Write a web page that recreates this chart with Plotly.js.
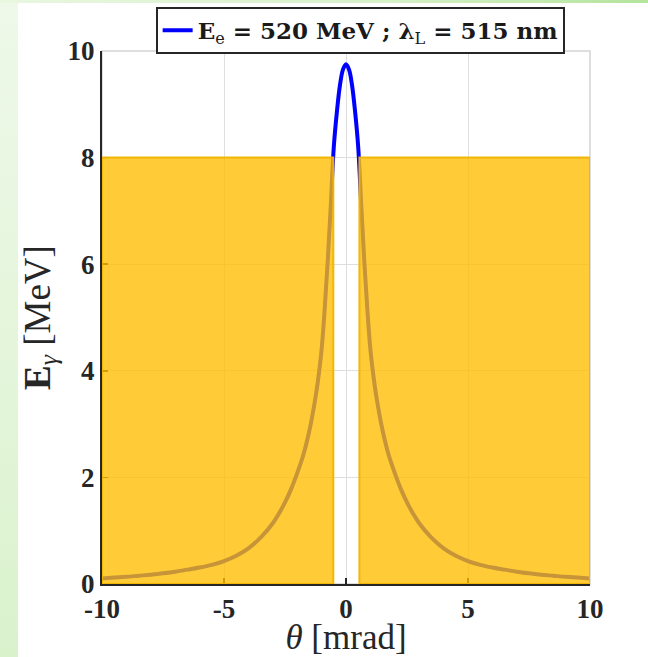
<!DOCTYPE html>
<html>
<head>
<meta charset="utf-8">
<script src="https://cdn.plot.ly/plotly-3.0.1.min.js"></script>
<style>
  html, body { margin: 0; padding: 0; width: 648px; height: 657px; overflow: hidden; background: #ffffff; }
  #leftStrip { position: absolute; left: 0; top: 0; width: 18px; height: 657px;
    background: linear-gradient(180deg, #eef9e9 0%, #e3f5d9 60%, #d9f2cc 100%); }
  #topStrip { position: absolute; left: 0; top: 0; width: 648px; height: 3px;
    background: linear-gradient(90deg, #e9f7e1 0%, #d6f0c8 60%, #b4e49c 100%); }
  #chart { position: absolute; left: 0; top: 0; width: 648px; height: 657px; }
</style>
</head>
<body>
<div id="leftStrip"></div>
<div id="topStrip"></div>
<div id="chart"></div>
<script>
// Emission angle (mrad) and scattered photon energy (MeV)
const thetaMrad = [-10, -9.5, -9, -8.5, -8, -7.5, -7, -6.5, -6, -5.5, -5, -4.5, -4, -3.5, -3,
                   -2.75, -2.5, -2.25, -2, -1.75, -1.5, -1.25, -1.125, -1, -0.875, -0.75, -0.625, -0.5, -0.375, -0.25, -0.125,
                   0,
                   0.125, 0.25, 0.375, 0.5, 0.625, 0.75, 0.875, 1, 1.125, 1.25, 1.5, 1.75, 2, 2.25, 2.5, 2.75,
                   3, 3.5, 4, 4.5, 5, 5.5, 6, 6.5, 7, 7.5, 8, 8.5, 9, 9.5, 10];
const energyMeV = [0.105, 0.12, 0.135, 0.155, 0.175, 0.20, 0.23, 0.27, 0.31, 0.36, 0.43, 0.53, 0.67, 0.87, 1.14,
                   1.32, 1.53, 1.78, 2.08, 2.42, 2.88, 3.50, 3.90, 4.40, 5.15, 6.05, 7.10, 8.20, 8.85, 9.35, 9.65,
                   9.75,
                   9.65, 9.35, 8.85, 8.20, 7.10, 6.05, 5.15, 4.40, 3.90, 3.50, 2.88, 2.42, 2.08, 1.78, 1.53, 1.32,
                   1.14, 0.87, 0.67, 0.53, 0.43, 0.36, 0.31, 0.27, 0.23, 0.20, 0.175, 0.155, 0.135, 0.12, 0.105];

// Shaded (collimated-out) angular bands
const leftBandX = [-10, -0.52];
const rightBandX = [0.55, 10];
const bandY = [0, 8];

// Axis ticks
const xTicks = [-10, -5, 0, 5, 10];
const yTicks = [0, 2, 4, 6, 8, 10];

const sp = '&nbsp;';
const eq = sp + '=' + sp;
const legendName = '<b>E</b><sub>e</sub><b>' + eq + '520' + sp + 'MeV' + sp + ';' + sp +
                   'λ</b><sub>L</sub><b>' + eq + '515' + sp + 'nm</b>';

function bandTrace(bx) {
  return {
    x: [bx[0], bx[1], bx[1], bx[0], bx[0]],
    y: [bandY[0], bandY[0], bandY[1], bandY[1], bandY[0]],
    type: 'scatter', mode: 'lines', fill: 'toself',
    fillcolor: 'rgba(255,190,0,0.78)',
    line: { color: 'rgba(240,180,0,0.95)', width: 2 },
    showlegend: false, hoverinfo: 'skip', cliponaxis: false
  };
}

const traces = [
  {
    x: thetaMrad, y: energyMeV, type: 'scatter', mode: 'lines',
    name: legendName,
    line: { color: '#0000ff', width: 4, shape: 'spline', smoothing: 1 }
  },
  bandTrace(leftBandX),
  bandTrace(rightBandX)
];

const serif = 'Liberation Serif, Times New Roman, serif';
const tickFont = { family: serif, size: 27, color: '#262626', weight: 'bold' };

const layout = {
  width: 648, height: 657,
  margin: { l: 102, r: 58, t: 51, b: 73, autoexpand: false },
  paper_bgcolor: 'rgba(0,0,0,0)',
  plot_bgcolor: '#ffffff',
  showlegend: true,
  legend: {
    x: 0.529, xanchor: 'center', y: 1.083, yanchor: 'top',
    bgcolor: '#ffffff', bordercolor: '#262626', borderwidth: 2,
    font: { family: 'DejaVu Serif, serif', size: 23, color: '#1a1a1a' },
    itemwidth: 30, tracegroupgap: 0
  },
  xaxis: {
    range: [-10, 10], tickvals: xTicks, ticktext: xTicks.map(String),
    tickfont: tickFont, ticks: 'inside', ticklen: 6, tickwidth: 1.5, tickcolor: '#262626',
    showline: true, linecolor: '#262626', linewidth: 2,
    showgrid: true, gridcolor: '#dedede', gridwidth: 1,
    zeroline: false, layer: 'below traces',
    title: { text: '<i>θ</i>' + sp + '[mrad]', font: { family: serif, size: 35, color: '#262626' }, standoff: 6 }
  },
  yaxis: {
    range: [0, 10], tickvals: yTicks, ticktext: yTicks.map(String),
    tickfont: tickFont, ticks: 'inside', ticklen: 6, tickwidth: 1.5, tickcolor: '#262626',
    showline: true, linecolor: '#262626', linewidth: 2,
    showgrid: true, gridcolor: '#dedede', gridwidth: 1,
    zeroline: false, layer: 'below traces',
    title: { text: '<b>E</b><sub><i>γ</i></sub>' + sp + '[MeV]', font: { family: serif, size: 37, color: '#262626' }, standoff: 6 }
  },
  shapes: [
    { type: 'rect', xref: 'paper', yref: 'paper', x0: 0, x1: 1, y0: 0, y1: 1,
      line: { color: '#d4d4d4', width: 1.5 }, layer: 'below' }
  ]
};

Plotly.newPlot('chart', traces, layout, { displayModeBar: false, staticPlot: true });
</script>
</body>
</html>
